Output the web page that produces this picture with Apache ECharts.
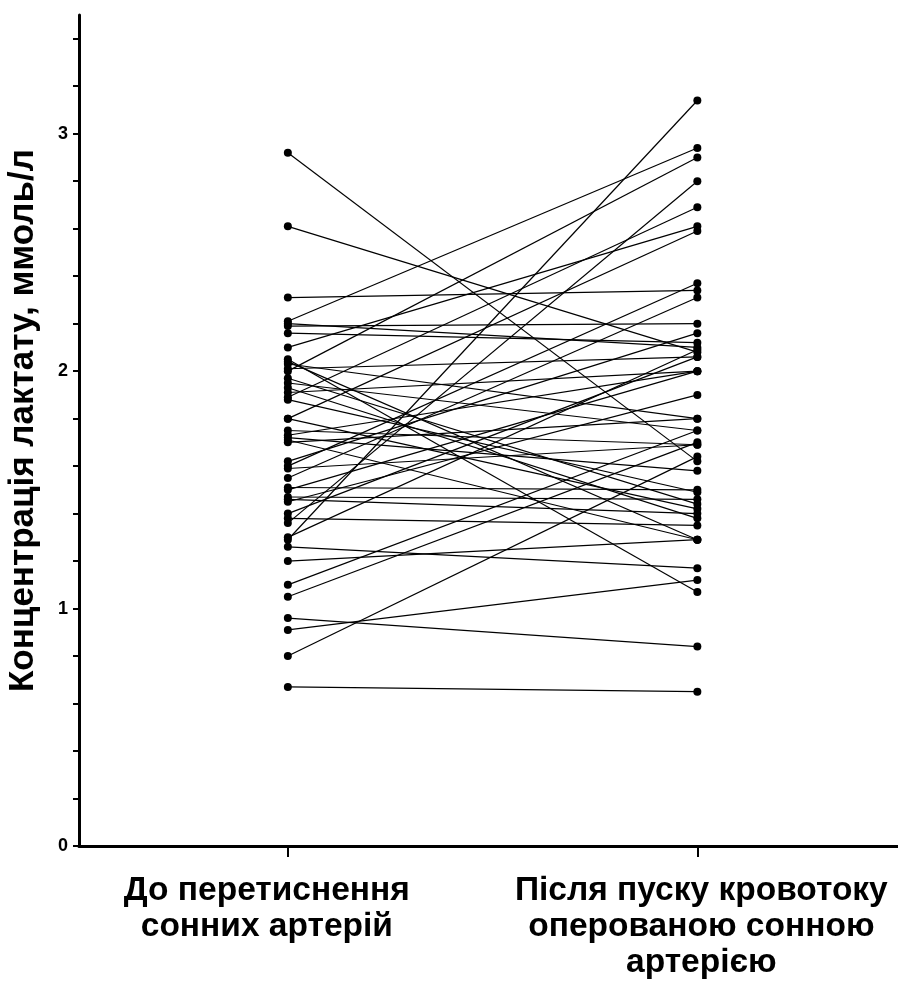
<!DOCTYPE html>
<html>
<head>
<meta charset="utf-8">
<style>
  html, body { margin: 0; padding: 0; background: #fff; }
  #chart { width: 898px; height: 989px; }
</style>
<script src="https://cdn.jsdelivr.net/npm/echarts@6/dist/echarts.min.js"></script>
</head>
<body>
<div id="chart"></div>
<script>
// lactate per patient, mmol/l (same index = same patient)
const before = [2.92, 2.61, 2.31, 2.21, 2.19, 2.16, 2.20, 2.10, 2.05, 2.03,
  2.01, 2.00, 1.97, 1.95, 1.93, 1.91, 1.89, 1.88, 1.80, 1.80,
  1.75, 1.73, 1.71, 1.70, 1.62, 1.60, 1.59, 1.55, 1.51, 1.50,
  1.47, 1.46, 1.40, 1.38, 1.36, 1.30, 1.29, 1.26, 1.20, 1.10,
  1.05, 0.96, 0.91, 0.80, 0.67, 1.72, 1.45, 2.04];
const after = [1.62, 2.08, 2.34, 2.94, 2.20, 2.12, 2.10, 2.61, 1.07, 1.80,
  2.06, 2.90, 1.44, 1.75, 1.38, 2.00, 2.69, 1.49, 2.59, 1.42,
  1.69, 2.00, 1.29, 1.80, 2.16, 2.37, 1.69, 2.31, 1.50, 2.00,
  1.46, 1.40, 2.06, 1.35, 2.80, 2.09, 3.14, 1.17, 1.29, 1.75,
  1.70, 0.84, 1.12, 1.64, 0.65, 1.58, 1.90, 1.29];
const groups = ['{a|До перетиснення}\n{a|сонних артерій}',
  '{b|Після пуску кровотоку}\n{b|оперованою сонною}\n{b|артерією}'];
const yTicks = [0, 0.2, 0.4, 0.6, 0.8, 1, 1.2, 1.4, 1.6, 1.8, 2, 2.2, 2.4, 2.6, 2.8, 3, 3.2, 3.4];
const yLabels = [0, 1, 2, 3];

const chart = echarts.init(document.getElementById('chart'));

const series = before.map((b, i) => ({
  type: 'line',
  data: [[1, b], [2, after[i]]],
  symbol: 'circle',
  symbolSize: 8,
  itemStyle: { color: '#000' },
  lineStyle: { color: '#000', width: 1.2 },
  animation: false,
  silent: true
}));

const font = 'Liberation Sans, Arial, sans-serif';
const labelText = { color: '#000', fontFamily: font, fontWeight: 'bold', fontSize: 33.5, lineHeight: 36 };

chart.setOption({
  backgroundColor: '#fff',
  grid: { left: 79, right: 0, top: 15, bottom: 143, containLabel: false, outerBoundsMode: 'none' },
  xAxis: {
    type: 'value',
    min: 0.49,
    max: 2.49,
    splitLine: { show: false },
    axisLine: { lineStyle: { color: '#000', width: 3 } },
    axisTick: { customValues: [1, 2], length: 11, lineStyle: { color: '#000', width: 2 } },
    axisLabel: Object.assign({
      customValues: [1, 2],
      formatter: v => groups[Math.round(v) - 1],
      margin: 27,
      rich: {
        a: Object.assign({ padding: [0, 42, 0, 0] }, labelText),
        b: Object.assign({ padding: [0, 0, 0, 8] }, labelText)
      }
    }, labelText)
  },
  yAxis: {
    type: 'value',
    min: 0,
    max: 3.5,
    name: 'Концентрація лактату, ммоль/л',
    nameLocation: 'middle',
    nameGap: 38,
    nameTextStyle: {
      color: '#000',
      fontFamily: font,
      fontWeight: 'bold',
      fontSize: 35,
      padding: [0, 0, 0, 20]
    },
    splitLine: { show: false },
    axisLine: { lineStyle: { color: '#000', width: 3 } },
    axisTick: { customValues: yTicks, length: 6, lineStyle: { color: '#000', width: 2 } },
    axisLabel: {
      customValues: yLabels,
      color: '#000',
      fontFamily: font,
      fontWeight: 'bold',
      fontSize: 18,
      margin: 11
    }
  },
  series: series
});
</script>
</body>
</html>
